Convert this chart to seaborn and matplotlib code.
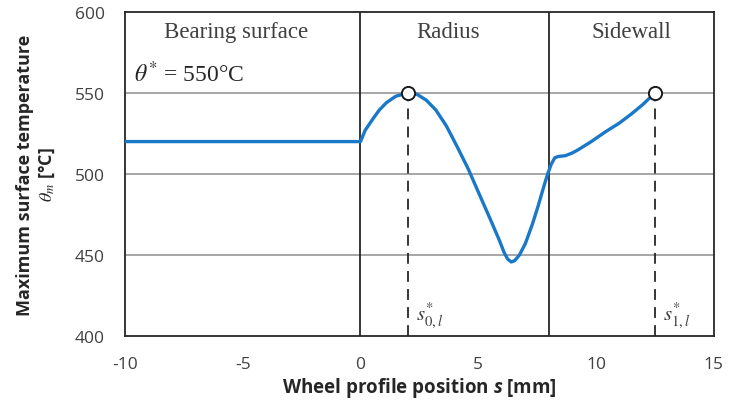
import matplotlib
matplotlib.use("Agg")
import matplotlib.pyplot as plt
import seaborn as sns
import pandas as pd

# Wheel profile position s [mm] and maximum surface temperature [°C]
s_mm = [-10, -5, 0, 0.2, 0.55, 0.8, 1.1, 1.5, 2.0, 2.4, 2.8, 3.2, 3.65, 4.1, 4.58, 5.0, 5.5,
        5.9, 6.1, 6.25, 6.4, 6.55, 6.75, 7.0, 7.3, 7.55, 7.8, 7.95, 8.1, 8.25, 8.4,
        8.7, 9.0, 9.25, 9.8, 10.4, 11.0, 11.5, 12.0, 12.5]
theta_m = [520, 520, 520, 527, 534.5, 539.5, 544, 548, 550, 549.2, 545.5, 539.5, 529.6, 517, 503,
           489, 472.5, 459, 451.5, 447.5, 445.7, 446.5, 450, 457, 469, 480.5, 493, 500, 506,
           510, 510.8, 511.3, 513, 515, 520, 526, 531.5, 537, 543, 550]

# Critical points on the profile
crit_s = [2.0, 12.5]
crit_theta = [550, 550]
theta_star = 550

# Zone boundaries and zone names
zone_bounds = [0, 8]
zone_names = ["Bearing surface", "Radius", "Sidewall"]
zone_centers = [-5.3, 3.7, 11.5]

x_ticks = [-10, -5, 0, 5, 10, 15]
y_ticks = [400, 450, 500, 550, 600]

sns.set_theme(style="white")
plt.rcParams["font.family"] = ["Open Sans", "DejaVu Sans"]
plt.rcParams["mathtext.fontset"] = "stix"
plt.rcParams["mathtext.it"] = "Open Sans:italic:bold"
plt.rcParams["mathtext.rm"] = "Open Sans:bold"
plt.rcParams["mathtext.bf"] = "Open Sans:bold"

fig = plt.figure(figsize=(7.29, 4.06), dpi=100)
ax = fig.add_axes([0.1715, 0.17, 0.8075, 0.798])

df = pd.DataFrame({"s": s_mm, "theta": theta_m})

for yv in [450, 500, 550]:
    ax.axhline(yv, color="#a6a6a6", lw=1.4, zorder=0)
for xv in zone_bounds:
    ax.axvline(xv, color="#262626", lw=1.3, zorder=1)

for xs, ys in zip(crit_s, crit_theta):
    ax.plot([xs, xs], [400, ys], color="#262626", lw=1.3, ls=(0, (6, 4)), zorder=1)

sns.lineplot(data=df, x="s", y="theta", ax=ax, color="#1a78c8", lw=2.4, zorder=3,
             solid_joinstyle="round", solid_capstyle="round")
sns.scatterplot(x=crit_s, y=crit_theta, ax=ax, s=90, facecolor="white",
                edgecolor="#1a1a1a", linewidth=1.4, zorder=4)

ax.set_xlim(-10, 15)
ax.set_ylim(400, 600)
ax.set_xticks(x_ticks)
ax.set_yticks(y_ticks)
ax.set_xticklabels([str(t) for t in x_ticks])
ax.tick_params(axis="both", direction="inout", length=7, width=1.2, colors="#262626",
               labelcolor="#404040", labelsize=12.5)
ax.tick_params(axis="x", pad=11)
ax.tick_params(axis="y", pad=11)

for sp in ax.spines.values():
    sp.set_color("#262626")
    sp.set_linewidth(1.3)

ax.set_xlabel("Wheel profile position $s$ [mm]", fontsize=13.5, fontweight="bold",
              color="#262626", labelpad=2, math_fontfamily="custom")
ax.set_ylabel("Maximum surface temperature\n$\\theta_m$ [°C]", fontsize=13, fontweight="bold",
              color="#262626", labelpad=13, linespacing=1.15)

serif = ["Liberation Serif", "DejaVu Serif"]
for xc, name in zip(zone_centers, zone_names):
    ax.text(xc, 588, name, ha="center", va="center", fontsize=16.5, family=serif,
            color="#404040")

ax.text(-9.6, 562, f"$\\theta^{{*}}$ = {theta_star}°C", ha="left", va="center",
        fontsize=17, family=serif, color="#262626")
ax.text(2.35, 413, "$s^{*}_{0,l}$", ha="left", va="center", fontsize=15, color="#404040")
ax.text(12.85, 413, "$s^{*}_{1,l}$", ha="left", va="center", fontsize=15, color="#404040")

fig.savefig("out.png", dpi=100)
